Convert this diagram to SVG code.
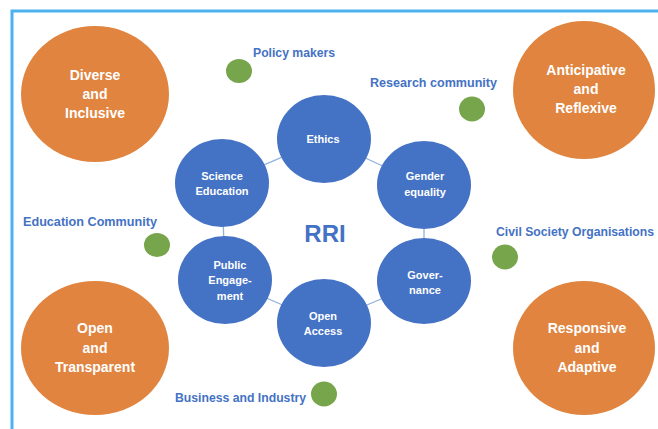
<svg xmlns="http://www.w3.org/2000/svg" width="658" height="429" viewBox="0 0 658 429">
<style>
.orange{fill:#E0843F}
.blue{fill:#4472C4}
.green{fill:#76A54B}
.ot{font-family:"Liberation Sans",Arial,sans-serif;font-weight:bold;font-size:14px;fill:#fff;text-anchor:middle}
.bt{font-family:"Liberation Sans",Arial,sans-serif;font-weight:bold;font-size:11px;fill:#fff;text-anchor:middle}
.lbl{font-family:"Liberation Sans",Arial,sans-serif;font-weight:bold;font-size:12.5px;fill:#4472C4}
.conn{stroke:#8FB1DE;stroke-width:1.3;fill:none}
</style>
<rect width="658" height="429" fill="#fff"/>
<path d="M12 440 V11 H670" fill="none" stroke="#4DB1F0" stroke-width="3"/>
<g id="connectors">
<line class="conn" x1="222" y1="183" x2="324" y2="139"/>
<line class="conn" x1="324" y1="139" x2="424" y2="185"/>
<line class="conn" x1="424" y1="185" x2="424" y2="281"/>
<line class="conn" x1="424" y1="281" x2="324" y2="323"/>
<line class="conn" x1="324" y1="323" x2="225" y2="280"/>
<line class="conn" x1="225" y1="280" x2="222" y2="183"/>
</g>
<g id="diverse"><ellipse class="orange" cx="95" cy="94" rx="74" ry="68"/><text class="ot" x="95" y="80">Diverse</text><text class="ot" x="95" y="99">and</text><text class="ot" x="95" y="118">Inclusive</text></g>
<g id="anticipative"><ellipse class="orange" cx="584" cy="90" rx="71" ry="69"/><text class="ot" x="586" y="75">Anticipative</text><text class="ot" x="586" y="94">and</text><text class="ot" x="586" y="113">Reflexive</text></g>
<g id="open-transparent"><ellipse class="orange" cx="95" cy="348" rx="74" ry="67"/><text class="ot" x="95" y="333">Open</text><text class="ot" x="95" y="353">and</text><text class="ot" x="95" y="372">Transparent</text></g>
<g id="responsive"><ellipse class="orange" cx="584" cy="348" rx="71" ry="67"/><text class="ot" x="587" y="333">Responsive</text><text class="ot" x="587" y="353">and</text><text class="ot" x="587" y="372">Adaptive</text></g>
<g id="ethics"><ellipse class="blue" cx="324" cy="139" rx="47" ry="44"/><text class="bt" x="323" y="143">Ethics</text></g>
<g id="science-education"><ellipse class="blue" cx="222" cy="183" rx="47" ry="44"/><text class="bt" x="222" y="180">Science</text><text class="bt" x="222" y="195">Education</text></g>
<g id="gender-equality"><ellipse class="blue" cx="424" cy="185" rx="47" ry="44"/><text class="bt" x="425" y="180">Gender</text><text class="bt" x="425" y="196">equality</text></g>
<g id="governance"><ellipse class="blue" cx="424" cy="281" rx="47" ry="43"/><text class="bt" x="425" y="279">Gover-</text><text class="bt" x="425" y="294">nance</text></g>
<g id="open-access"><ellipse class="blue" cx="324" cy="323" rx="47" ry="44"/><text class="bt" x="323" y="320">Open</text><text class="bt" x="323" y="335">Access</text></g>
<g id="public-engagement"><ellipse class="blue" cx="225" cy="280" rx="47" ry="44"/><text class="bt" x="230" y="269">Public</text><text class="bt" x="230" y="284">Engage-</text><text class="bt" x="230" y="300">ment</text></g>
<g id="rri"><text x="325" y="242" font-family="Liberation Sans,Arial,sans-serif" font-weight="bold" font-size="24" fill="#4472C4" text-anchor="middle">RRI</text></g>
<g id="policy-makers"><ellipse class="green" cx="239" cy="71" rx="13" ry="12"/><text class="lbl" x="253" y="57" textLength="82" lengthAdjust="spacingAndGlyphs">Policy makers</text></g>
<g id="research-community"><ellipse class="green" cx="472" cy="109" rx="13" ry="12.5"/><text class="lbl" x="370" y="87" textLength="127" lengthAdjust="spacingAndGlyphs">Research community</text></g>
<g id="education-community"><ellipse class="green" cx="157" cy="245" rx="13" ry="12"/><text class="lbl" x="23" y="226" textLength="134" lengthAdjust="spacingAndGlyphs">Education Community</text></g>
<g id="civil-society"><ellipse class="green" cx="505" cy="257" rx="13" ry="12.5"/><text class="lbl" x="496" y="236" textLength="158" lengthAdjust="spacingAndGlyphs">Civil Society Organisations</text></g>
<g id="business-industry"><ellipse class="green" cx="324" cy="394" rx="13" ry="12.5"/><text class="lbl" x="175" y="402" textLength="131" lengthAdjust="spacingAndGlyphs">Business and Industry</text></g>
</svg>
